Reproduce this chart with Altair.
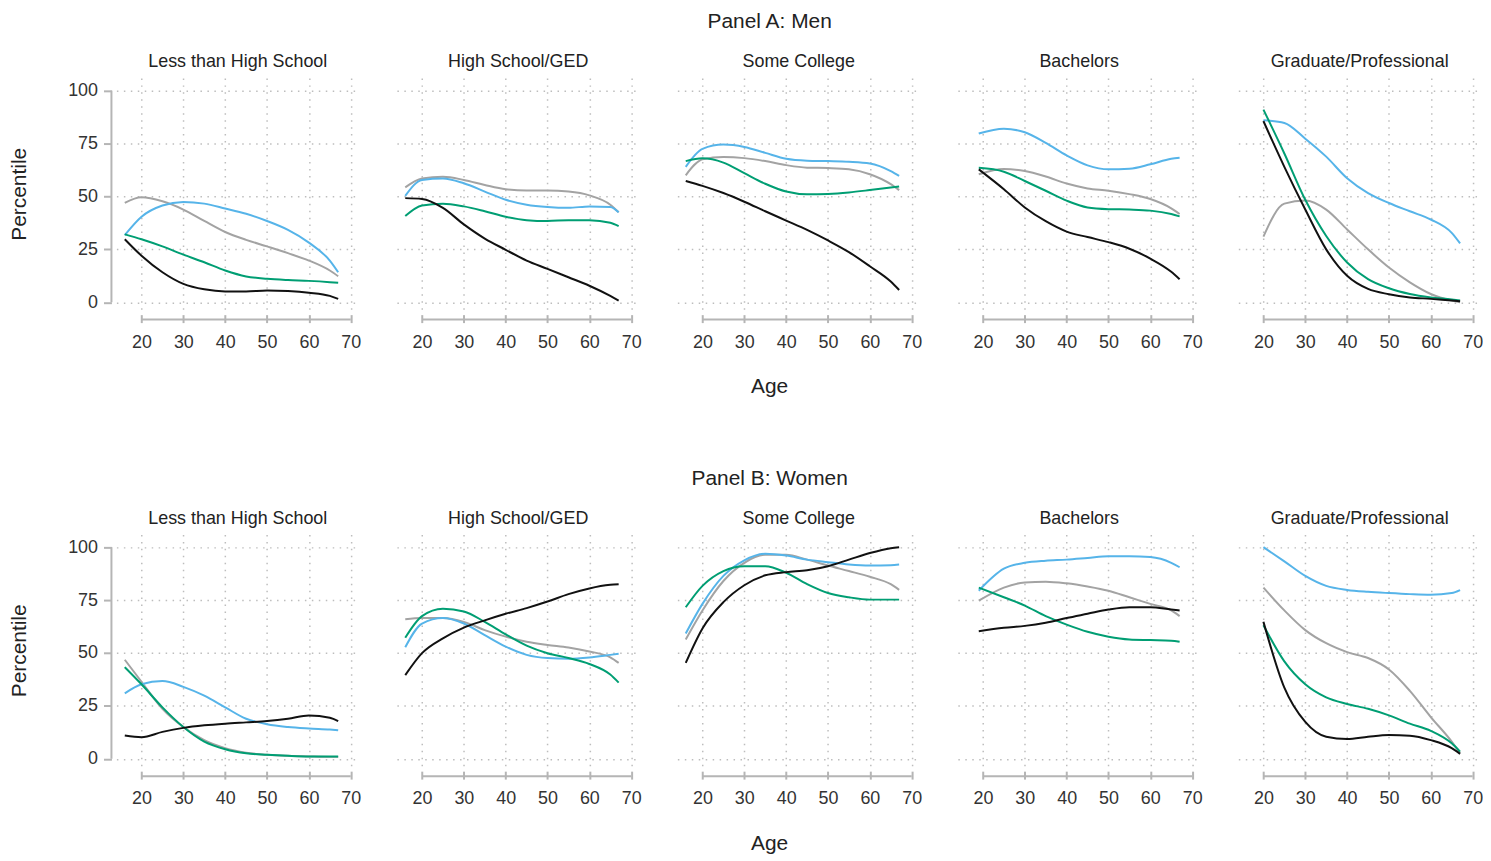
import altair as alt
import pandas as pd

FONT = "Liberation Sans"

EDUCATION = ["Less than High School", "High School/GED", "Some College",
             "Bachelors", "Graduate/Professional"]
SERIES = ["gray", "blue", "green", "black"]
SERIES_COLORS = ["#a3a3a3", "#56b4e9", "#009e73", "#111111"]

AGES = [16, 20, 25, 30, 35, 40, 45, 50, 55, 60, 65, 67]
BACH_AGES = [19, 25, 30, 35, 40, 45, 50, 55, 60, 65, 67]
GRAD_AGES = [20, 25, 30, 35, 40, 45, 50, 55, 60, 65, 67]

# Panel A: Men
men_lths = {
    "black": [29.8, 22, 14.2, 8.7, 6.1, 5.1, 5.1, 5.6, 5.3, 4.5, 3.0, 1.6],
    "gray": [47, 49.6, 47.7, 43.8, 38.4, 33.2, 29.5, 26.4, 23.2, 19.7, 15, 12.3],
    "blue": [31.7, 40.4, 45.7, 47.4, 46.6, 44.3, 41.8, 38.4, 34.2, 28.2, 19.7, 14.2],
    "green": [32.1, 29.8, 26.4, 22.5, 18.9, 15, 12.2, 11.1, 10.5, 10.1, 9.5, 9.2],
}
men_hs = {
    "black": [49.2, 48.8, 44.6, 36.8, 30.1, 24.8, 19.7, 15.8, 11.8, 7.8, 3.0, 0.8],
    "gray": [54.3, 58.5, 59.3, 57.8, 55.4, 53.4, 52.8, 52.8, 52.3, 50.5, 46.1, 42.5],
    "blue": [50.3, 57.8, 58.5, 56.2, 52.3, 48.4, 46.1, 45, 44.6, 45.3, 45, 42.5],
    "green": [40.7, 45.7, 46.6, 45.3, 43, 40.4, 38.8, 38.4, 38.8, 38.8, 37.6, 36],
}
men_sc = {
    "black": [57.3, 55, 51.6, 47.5, 43, 38.6, 34.2, 29.2, 23.7, 17, 9.8, 5.8],
    "gray": [60, 67.5, 68.6, 68.1, 66.7, 64.8, 63.6, 63.4, 62.8, 60.5, 55.8, 53],
    "blue": [64, 72.5, 74.5, 73.4, 70.6, 67.8, 66.9, 66.7, 66.4, 65.6, 62, 59.7],
    "green": [66.7, 68, 66, 61, 56, 52.3, 51, 51.2, 51.9, 53, 54.2, 54.7],
}
men_bach = {
    "black": [62.8, 53.4, 44.8, 38.3, 33.4, 30.8, 28.4, 25.3, 20.6, 14.4, 10.9],
    "gray": [60.5, 63, 62, 59.4, 56.1, 53.8, 52.7, 51.1, 48.8, 44.4, 41.7],
    "blue": [79.7, 82, 80.3, 75.3, 69.4, 64.7, 62.8, 63.1, 65.2, 67.8, 68.3],
    "green": [63.5, 61.7, 57.3, 52.7, 48, 44.8, 44, 43.8, 43.3, 41.7, 40.6],
}
men_grad = {
    "black": [85.6, 64, 43.8, 25, 12.5, 6.3, 3.8, 2.3, 1.6, 0.8, 0.5],
    "gray": [31, 46.6, 48.1, 43.8, 34.4, 25, 16.4, 9.4, 3.9, 0.8, 0],
    "blue": [86, 84.7, 77.3, 68.8, 58.6, 51.6, 46.9, 43, 39.1, 32.8, 27.8],
    "green": [91, 70.3, 48.4, 31.3, 18.8, 10.9, 6.6, 3.9, 2.3, 1.3, 0.8],
}

# Panel B: Women
women_lths = {
    "black": [11, 10.2, 12.7, 14.6, 15.8, 16.6, 17.2, 17.8, 18.9, 20.5, 19.4, 17.8],
    "gray": [46.8, 36.4, 23.6, 15, 8.8, 5, 2.9, 1.9, 1.4, 1.1, 0.9, 0.9],
    "blue": [30.9, 35.2, 36.7, 34, 29.8, 24.3, 18.9, 16.3, 15, 14.3, 13.8, 13.5],
    "green": [43.3, 35.2, 24.3, 15, 8.1, 4.5, 2.6, 1.9, 1.4, 1.1, 1.1, 1.1],
}
women_hs = {
    "black": [39.5, 49.9, 56.9, 62, 65.4, 68.5, 71.2, 74.3, 77.8, 80.5, 82.2, 82.5],
    "gray": [65.9, 66.5, 66.5, 64.7, 60.8, 57.7, 55.3, 53.8, 52.6, 50.7, 47.9, 45.3],
    "blue": [52.7, 63.9, 66.5, 63.9, 58.4, 53, 49.1, 47.6, 47.3, 47.9, 49.1, 49.6],
    "green": [57.2, 67.4, 70.9, 69.6, 64.7, 58.8, 53.5, 49.9, 47.6, 44.8, 39.8, 36],
}
women_sc = {
    "black": [45.3, 61.6, 74, 82, 86.7, 88.2, 89.1, 91, 94.1, 97.2, 99.5, 100],
    "gray": [56.4, 70.1, 84, 92.6, 96.4, 96.4, 94.1, 91.3, 88.7, 86, 82.5, 79.8],
    "blue": [59.2, 73.2, 86.4, 93.8, 96.9, 96, 94.1, 92.9, 91.8, 91.3, 91.5, 91.8],
    "green": [71.6, 81.7, 88.7, 91, 91, 87.9, 82.5, 78.3, 76.3, 75.2, 75.2, 75.2],
}
women_bach = {
    "black": [60.3, 61.9, 62.8, 64.3, 66.5, 68.5, 70.5, 71.6, 71.6, 70.5, 70.1],
    "gray": [74.7, 80.9, 83.3, 83.7, 82.9, 81.4, 79.4, 76.3, 73.2, 70.1, 67.4],
    "blue": [79.4, 89.8, 92.6, 93.6, 94.1, 94.9, 95.7, 95.7, 95.3, 92.6, 90.5],
    "green": [80.9, 76.3, 72.4, 67.4, 63.4, 60, 57.7, 56.4, 56.1, 55.8, 55.3],
}
women_grad = {
    "black": [64.7, 33.6, 17.4, 10.4, 9.3, 10.4, 11.2, 10.9, 8.8, 5, 2.3],
    "gray": [80.9, 70.1, 60.8, 54.6, 50.4, 47.6, 42.2, 32.1, 19.7, 8.1, 2.6],
    "blue": [100, 93.3, 86.4, 81.7, 79.8, 78.9, 78.3, 77.8, 77.5, 78.3, 79.7],
    "green": [63.1, 46, 35.2, 29, 25.9, 23.6, 20.5, 16.6, 13.2, 7.3, 3.4],
}

AGE_LISTS = [AGES, AGES, AGES, BACH_AGES, GRAD_AGES]

W, H = 244, 233
X_OFF = 5


def to_frame(panels):
    rows = []
    for edu, ages, panel in zip(EDUCATION, AGE_LISTS, panels):
        for s in SERIES:
            for a, v in zip(ages, panel[s]):
                rows.append({"education": edu, "series": s, "age": a, "value": v})
    return pd.DataFrame(rows)


def facet_chart(df, title):
    base = alt.Chart()
    lines = base.mark_line(interpolate="monotone", strokeWidth=2).encode(
        alt.X("age:Q").scale(domain=[14, 72], nice=False, zero=False)
        .axis(values=[20, 30, 40, 50, 60, 70], offset=X_OFF, title="",
              labelPadding=11),
        alt.Y("value:Q").scale(domain=[-3.5, 106], nice=False, zero=False)
        .axis(values=[0, 25, 50, 75, 100], offset=5, title="Percentile",
              titlePadding=38),
        alt.Color("series:N").scale(domain=SERIES, range=SERIES_COLORS).legend(None),
    )
    x_line = base.mark_rule(color="#b5b5b5", strokeWidth=2).encode(
        x=alt.datum(20), x2=alt.datum(70), y=alt.value(H + 10)
    ).transform_filter(
        (alt.datum.series == "black") & (alt.datum.age == 67)
    )
    y_line = base.mark_rule(color="#b5b5b5", strokeWidth=2).encode(
        y=alt.datum(0), y2=alt.datum(100), x=alt.value(-5)
    ).transform_filter(
        (alt.datum.series == "black") & (alt.datum.age == 67)
        & (alt.datum.education == EDUCATION[0])
    )
    grid = alt.layer(lines, x_line, y_line, data=df).properties(
        width=W, height=H
    ).facet(
        column=alt.Column("education:N", sort=EDUCATION, title=None,
                          header=alt.Header(labelFontSize=18, labelFont=FONT,
                                            labelColor="#222222", labelPadding=7)),
        spacing=38,
        bounds="flush",
        title=alt.TitleParams(title, fontSize=21, font=FONT, fontWeight="normal",
                              anchor="middle", color="#222222", offset=21, dx=24),
    )
    return alt.vconcat(grid).properties(
        title=alt.TitleParams("Age", orient="bottom", fontSize=21, font=FONT,
                              fontWeight="normal", anchor="middle",
                              color="#222222", offset=25, dx=24)
    )


men = facet_chart(to_frame([men_lths, men_hs, men_sc, men_bach, men_grad]),
                  "Panel A: Men")
women = facet_chart(to_frame([women_lths, women_hs, women_sc, women_bach, women_grad]),
                    "Panel B: Women")

chart = alt.vconcat(men, women, spacing=71).properties(
    padding={"top": 1, "left": 0, "right": 0, "bottom": 0}
).configure_view(
    stroke=None
).configure_axis(
    domain=False,
    grid=True,
    gridDash=[1.5, 5.5],
    gridColor="#bdbdbd",
    gridWidth=1.5,
    tickColor="#b5b5b5",
    tickWidth=2,
    tickSize=8,
    labelFont=FONT,
    labelFontSize=18,
    labelColor="#333333",
    labelPadding=6,
    titleFont=FONT,
    titleFontSize=21,
    titleFontWeight="normal",
    titleColor="#222222",
)

chart.save("out.html", embed_options={"renderer": "svg", "actions": False})
